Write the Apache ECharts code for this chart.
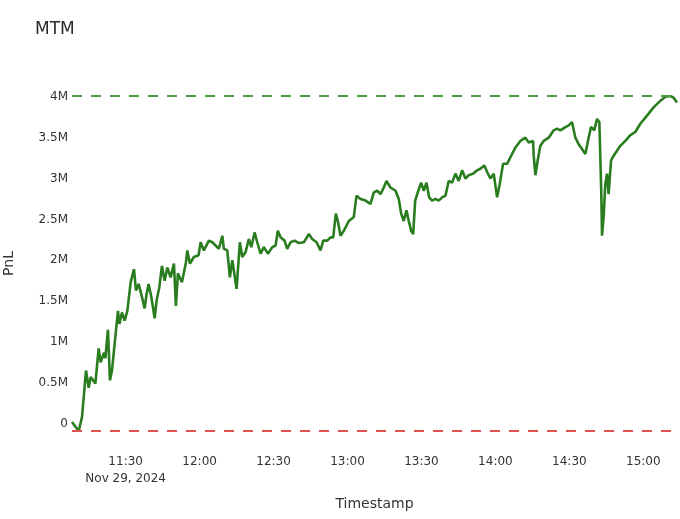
<!DOCTYPE html>
<html>
<head>
<meta charset="utf-8">
<script src="https://cdn.jsdelivr.net/npm/echarts@6/dist/echarts.min.js"></script>
<style>
  html, body { margin: 0; padding: 0; background: #fff; }
  #main { width: 680px; height: 519px; }
</style>
</head>
<body>
<div id="main"></div>
<script>
// MTM curve for the session (PnL in millions)
var day = '2024-11-29';
var times = [
  '11:08:14', '11:10:57', '11:12:17', '11:13:55', '11:15:00', '11:15:49', '11:17:43', '11:19:03',
  '11:19:52', '11:21:12', '11:21:46', '11:22:49', '11:23:38', '11:24:27', '11:25:32', '11:26:53',
  '11:27:27', '11:28:30', '11:29:35', '11:30:41', '11:32:02', '11:33:22', '11:34:11', '11:35:16',
  '11:36:37', '11:37:42', '11:38:31', '11:39:19', '11:40:25', '11:41:46', '11:42:34', '11:43:40',
  '11:44:43', '11:45:49', '11:46:55', '11:48:14', '11:49:35', '11:50:23', '11:51:12', '11:52:49',
  '11:54:27', '11:55:01', '11:56:04', '11:57:41', '11:59:35', '12:00:24', '12:01:44', '12:03:46',
  '12:05:09', '12:06:29', '12:07:49', '12:09:12', '12:09:51', '12:11:14', '12:12:17', '12:13:16',
  '12:15:00', '12:16:20', '12:17:19', '12:18:39', '12:19:59', '12:20:58', '12:22:18', '12:23:23',
  '12:24:44', '12:26:04', '12:27:41', '12:29:28', '12:30:49', '12:31:44', '12:32:50', '12:34:28',
  '12:35:33', '12:36:53', '12:38:31', '12:40:16', '12:42:17', '12:44:19', '12:45:41', '12:47:26',
  '12:49:03', '12:50:09', '12:51:46', '12:53:07', '12:54:12', '12:55:16', '12:56:04', '12:57:10',
  '12:58:30', '13:00:32', '13:02:33', '13:03:39', '13:05:16', '13:07:18', '13:09:19', '13:10:40',
  '13:12:02', '13:13:23', '13:14:43', '13:15:49', '13:17:26', '13:19:28', '13:20:48', '13:21:46',
  '13:22:49', '13:23:55', '13:24:51', '13:25:49', '13:26:38', '13:27:27', '13:28:30', '13:29:53',
  '13:30:56', '13:32:02', '13:33:07', '13:34:20', '13:35:40', '13:37:01', '13:38:23', '13:39:44',
  '13:41:04', '13:42:26', '13:43:47', '13:45:07', '13:46:30', '13:47:50', '13:49:10', '13:50:58',
  '13:52:35', '13:53:55', '13:55:32', '13:56:38', '13:57:58', '13:59:19', '14:00:41', '14:01:44',
  '14:03:07', '14:04:44', '14:06:05', '14:08:07', '14:10:08', '14:12:10', '14:13:30', '14:15:17',
  '14:15:32', '14:16:13', '14:17:09', '14:18:14', '14:19:35', '14:21:37', '14:23:38', '14:25:01',
  '14:26:21', '14:28:23', '14:29:43', '14:31:05', '14:32:26', '14:33:46', '14:35:09', '14:36:29',
  '14:37:49', '14:38:47', '14:40:08', '14:41:14', '14:42:10', '14:42:58', '14:43:15', '14:43:54',
  '14:44:35', '14:45:17', '14:45:56', '14:46:54', '14:47:58', '14:49:20', '14:50:40', '14:52:42',
  '14:54:44', '14:56:45', '14:58:47', '15:01:30', '15:04:10', '15:06:53', '15:08:55', '15:10:56',
  '15:12:17', '15:13:40'
];
var pnl = [
  0.02, -0.09, 0.08, 0.65, 0.44, 0.57, 0.49, 0.92,
  0.75, 0.87, 0.80, 1.15, 0.53, 0.65, 0.98, 1.38,
  1.22, 1.36, 1.26, 1.38, 1.73, 1.89, 1.63, 1.71,
  1.55, 1.41, 1.59, 1.71, 1.55, 1.29, 1.51, 1.67,
  1.93, 1.75, 1.91, 1.79, 1.96, 1.44, 1.84, 1.73,
  1.97, 2.12, 1.96, 2.04, 2.06, 2.22, 2.12, 2.24,
  2.22, 2.18, 2.14, 2.30, 2.14, 2.12, 1.79, 2.00,
  1.65, 2.22, 2.04, 2.10, 2.26, 2.16, 2.34, 2.22,
  2.08, 2.16, 2.08, 2.16, 2.18, 2.36, 2.28, 2.24,
  2.14, 2.22, 2.24, 2.21, 2.22, 2.32, 2.26, 2.22,
  2.12, 2.24, 2.24, 2.28, 2.28, 2.57, 2.48, 2.30,
  2.36, 2.48, 2.53, 2.79, 2.75, 2.73, 2.69, 2.83,
  2.85, 2.81, 2.89, 2.97, 2.89, 2.85, 2.75, 2.57,
  2.48, 2.61, 2.48, 2.36, 2.32, 2.73, 2.83, 2.95,
  2.85, 2.95, 2.77, 2.73, 2.75, 2.73, 2.77, 2.79,
  2.97, 2.95, 3.06, 2.97, 3.10, 3.00, 3.04, 3.06,
  3.10, 3.12, 3.16, 3.08, 3.00, 3.06, 2.77, 2.93,
  3.18, 3.18, 3.26, 3.38, 3.46, 3.50, 3.44, 3.46,
  3.28, 3.04, 3.22, 3.40, 3.46, 3.50, 3.59, 3.61,
  3.59, 3.63, 3.65, 3.69, 3.50, 3.42, 3.36, 3.30,
  3.50, 3.63, 3.59, 3.73, 3.69, 2.81, 2.30, 2.53,
  2.93, 3.06, 2.81, 3.22, 3.28, 3.34, 3.40, 3.46,
  3.53, 3.57, 3.67, 3.77, 3.87, 3.95, 4.00, 4.01,
  3.99, 3.93
];
var yTicks = [0, 0.5, 1, 1.5, 2, 2.5, 3, 3.5, 4];
var xTicks = ['11:30', '12:00', '12:30', '13:00', '13:30', '14:00', '14:30', '15:00'];
var dateLabel = 'Nov 29, 2024';

function ts(t) {
  return new Date(day + 'T' + (t.length === 5 ? t + ':00' : t)).getTime();
}
function pad(n) { return n < 10 ? '0' + n : '' + n; }

var seriesData = times.map(function (t, i) { return [ts(t), pnl[i]]; });
var xTickValues = xTicks.map(ts);

var chart = echarts.init(document.getElementById('main'));
var font = 'DejaVu Sans';
chart.setOption({
  animation: false,
  backgroundColor: '#fff',
  textStyle: { fontFamily: font },
  title: {
    text: 'MTM',
    left: 30,
    top: 16,
    textStyle: { fontFamily: font, fontSize: 17, fontWeight: 'normal', color: '#2a2a2a' }
  },
  grid: { left: 72, right: 3, top: 96, bottom: 88, outerBoundsMode: 'none' },
  xAxis: {
    // timestamps on a value axis so the half-hour labels can be placed exactly
    type: 'value',
    min: ts(times[0]),
    max: ts(times[times.length - 1]),
    name: 'Timestamp',
    nameLocation: 'middle',
    nameGap: 66,
    nameTextStyle: { fontFamily: font, fontSize: 14, color: '#333' },
    axisLine: { show: false },
    axisTick: { show: false },
    splitLine: { show: false },
    axisLabel: {
      customValues: xTickValues,
      margin: 22,
      fontSize: 12,
      lineHeight: 17,
      color: '#333',
      fontFamily: font,
      hideOverlap: false,
      formatter: function (v) {
        var d = new Date(v);
        var s = pad(d.getHours()) + ':' + pad(d.getMinutes());
        return s === xTicks[0] ? s + '\n' + dateLabel : s;
      }
    }
  },
  yAxis: {
    type: 'value',
    min: function (v) { return v.min; },
    max: function (v) { return v.max; },
    name: 'PnL',
    nameLocation: 'middle',
    nameGap: 56,
    nameTextStyle: { fontFamily: font, fontSize: 14, color: '#333' },
    axisLine: { show: false },
    axisTick: { show: false },
    splitLine: { show: false },
    axisLabel: {
      customValues: yTicks,
      margin: 4,
      fontSize: 12,
      color: '#333',
      fontFamily: font,
      formatter: function (v) { return v === 0 ? '0' : v + 'M'; }
    }
  },
  series: [{
    type: 'line',
    data: seriesData,
    showSymbol: false,
    lineStyle: { color: '#2a7d1e', width: 2.6 },
    markLine: {
      silent: true,
      symbol: 'none',
      label: { show: false },
      data: [
        { type: 'max', lineStyle: { color: '#4f9a45', type: [10, 9], width: 2 } },
        { type: 'min', lineStyle: { color: '#e0524f', type: [10, 9], width: 2 } }
      ]
    }
  }]
});
</script>
</body>
</html>
